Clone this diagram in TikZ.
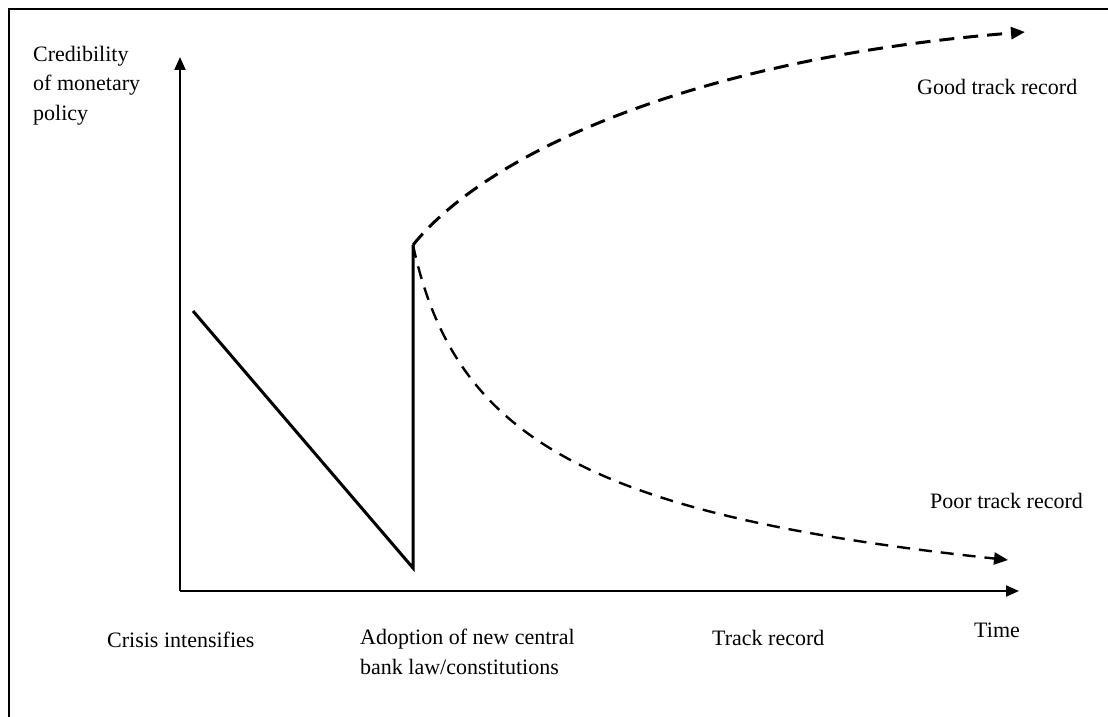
\documentclass[tikz,border=0pt]{standalone}
\usepackage{fontspec}
\setmainfont{Liberation Serif}
\usetikzlibrary{arrows.meta}

\begin{document}
\begin{tikzpicture}[x=1pt,y=-1pt,
 axis/.style={line width=2pt,-{Triangle[length=13pt,width=11pt]}},
 path/.style={line width=3pt},
 track/.style={line width=3pt,dash pattern=on 15pt off 9pt,-{Triangle[length=14pt,width=12pt]}},
 lbl/.style={inner sep=0pt,align=left,font=\fontsize{22}{29.5}\selectfont}]
\useasboundingbox (0,0) rectangle (1108,717);
\clip (0,0) rectangle (1108,717);
\draw[line width=1.5pt] (9,730) |- (1120,9);

\coordinate (origin) at (180,591);
\coordinate (ytip) at (180,57);
\coordinate (xtip) at (1019,591);
\coordinate (start) at (193,311);
\coordinate (low) at (413,568);
\coordinate (law) at (413,245);
\coordinate (good) at (1025,32);
\coordinate (poor) at (1008,560);

\draw[axis] (origin) -- (ytip);
\draw[axis] (origin) -- (xtip);
\draw[path] (start) -- (low) -- (law);
\draw[track] (law) .. controls (490,150) and (700,58) .. (good);
\draw[track,line width=2.4pt,dash pattern=on 13pt off 9pt] (law) .. controls (455,440) and (590,515) .. (poor);

\node[lbl,anchor=north west] (ylabel) at (33,46) {Credibility\\of monetary\\policy};
\node[lbl,anchor=base west] (goodlbl) at (917,95) {Good track record};
\node[lbl,anchor=base west] (poorlbl) at (930,508) {Poor track record};
\node[lbl,anchor=base west] (crisis) at (107,647) {Crisis intensifies};
\node[lbl,anchor=north west] (adopt) at (360,629) {Adoption of new central\\bank law/constitutions};
\node[lbl,anchor=base west] (record) at (712,645) {Track record};
\node[lbl,anchor=base west] (time) at (974,637) {Time};
\end{tikzpicture}
\end{document}
